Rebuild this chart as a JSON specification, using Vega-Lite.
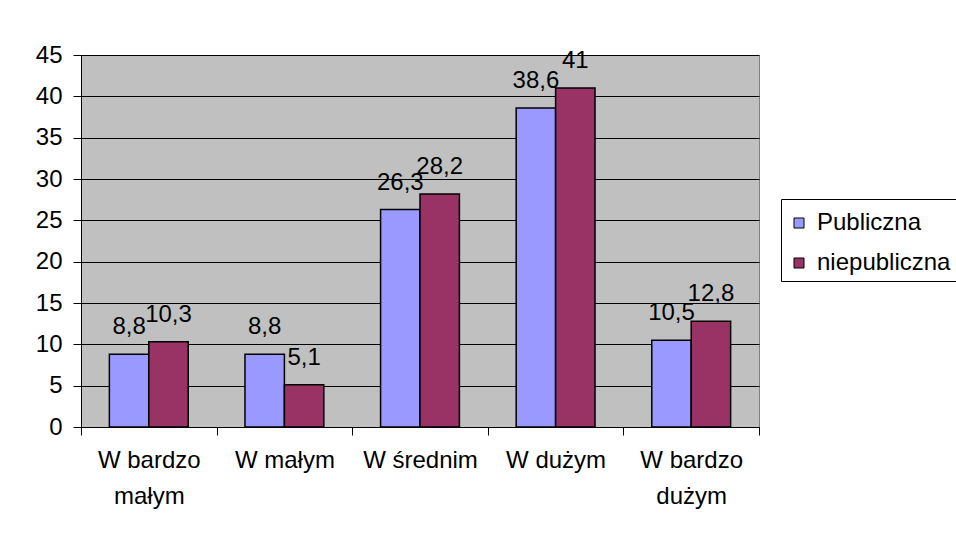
{
  "$schema": "https://vega.github.io/schema/vega-lite/v6.json",
  "width": 678,
  "height": 372,
  "autosize": {"type": "none"},
  "padding": {"left": 81, "top": 55, "right": 197, "bottom": 109},
  "background": "white",
  "config": {
    "locale": {"number": {"decimal": ",", "thousands": " ", "grouping": [3], "currency": ["", " zł"]}},
    "view": {"fill": "#C0C0C0", "stroke": "#808080", "strokeWidth": 1},
    "font": "Liberation Sans"
  },
  "data": {
    "values": [
      {"kategoria": "W bardzo małym", "typ": "Publiczna", "wartosc": 8.8},
      {"kategoria": "W bardzo małym", "typ": "niepubliczna", "wartosc": 10.3},
      {"kategoria": "W małym", "typ": "Publiczna", "wartosc": 8.8},
      {"kategoria": "W małym", "typ": "niepubliczna", "wartosc": 5.1},
      {"kategoria": "W średnim", "typ": "Publiczna", "wartosc": 26.3},
      {"kategoria": "W średnim", "typ": "niepubliczna", "wartosc": 28.2},
      {"kategoria": "W dużym", "typ": "Publiczna", "wartosc": 38.6},
      {"kategoria": "W dużym", "typ": "niepubliczna", "wartosc": 41},
      {"kategoria": "W bardzo dużym", "typ": "Publiczna", "wartosc": 10.5},
      {"kategoria": "W bardzo dużym", "typ": "niepubliczna", "wartosc": 12.8}
    ]
  },
  "encoding": {
    "x": {
      "field": "kategoria",
      "type": "nominal",
      "sort": ["W bardzo małym", "W małym", "W średnim", "W dużym", "W bardzo dużym"],
      "scale": {"paddingInner": 0, "paddingOuter": 0},
      "axis": {
        "title": null,
        "labelAngle": 0,
        "tickBand": "extent",
        "tickSize": 8,
        "tickColor": "black",
        "domainColor": "black",
        "labelColor": "black",
        "labelFont": "Liberation Sans",
        "labelFontSize": 24,
        "labelPadding": 13,
        "labelLineHeight": 36,
        "labelLimit": 0,
        "grid": false,
        "labelExpr": "datum.value == 'W bardzo małym' ? ['W bardzo', 'małym'] : datum.value == 'W bardzo dużym' ? ['W bardzo', 'dużym'] : datum.value"
      }
    },
    "xOffset": {
      "field": "typ",
      "sort": ["Publiczna", "niepubliczna"],
      "scale": {"paddingInner": 0, "paddingOuter": 0.72}
    },
    "y": {
      "field": "wartosc",
      "type": "quantitative",
      "scale": {"domain": [0, 45], "nice": false},
      "axis": {
        "title": null,
        "values": [0, 5, 10, 15, 20, 25, 30, 35, 40, 45],
        "grid": true,
        "gridColor": "black",
        "gridWidth": 1,
        "gridOpacity": 1,
        "domainColor": "black",
        "tickColor": "black",
        "tickSize": 8,
        "labelColor": "black",
        "labelFont": "Liberation Sans",
        "labelFontSize": 24,
        "labelPadding": 11
      }
    }
  },
  "layer": [
    {
      "mark": {"type": "bar", "stroke": "black", "strokeWidth": 1.5},
      "encoding": {
        "color": {
          "field": "typ",
          "type": "nominal",
          "scale": {"domain": ["Publiczna", "niepubliczna"], "range": ["#9999FF", "#993366"]},
          "legend": {
            "orient": "none",
            "legendX": 700,
            "legendY": 144,
            "title": " ",
            "titleFontSize": 5,
            "titlePadding": 1,
            "symbolType": "square",
            "symbolSize": 100,
            "symbolStrokeColor": "black",
            "symbolStrokeWidth": 1,
            "symbolOpacity": 1,
            "labelFont": "Liberation Sans",
            "labelFontSize": 24,
            "labelColor": "black",
            "labelOffset": 6,
            "rowPadding": 16,
            "padding": 6,
            "strokeColor": "black",
            "fillColor": "white",
            "labelLimit": 0
          }
        }
      }
    },
    {
      "mark": {"type": "text", "dy": -20, "baseline": "alphabetic", "align": "center", "fontSize": 24, "color": "black", "font": "Liberation Sans"},
      "encoding": {
        "text": {"field": "wartosc", "type": "quantitative", "format": "~g"}
      }
    }
  ]
}
